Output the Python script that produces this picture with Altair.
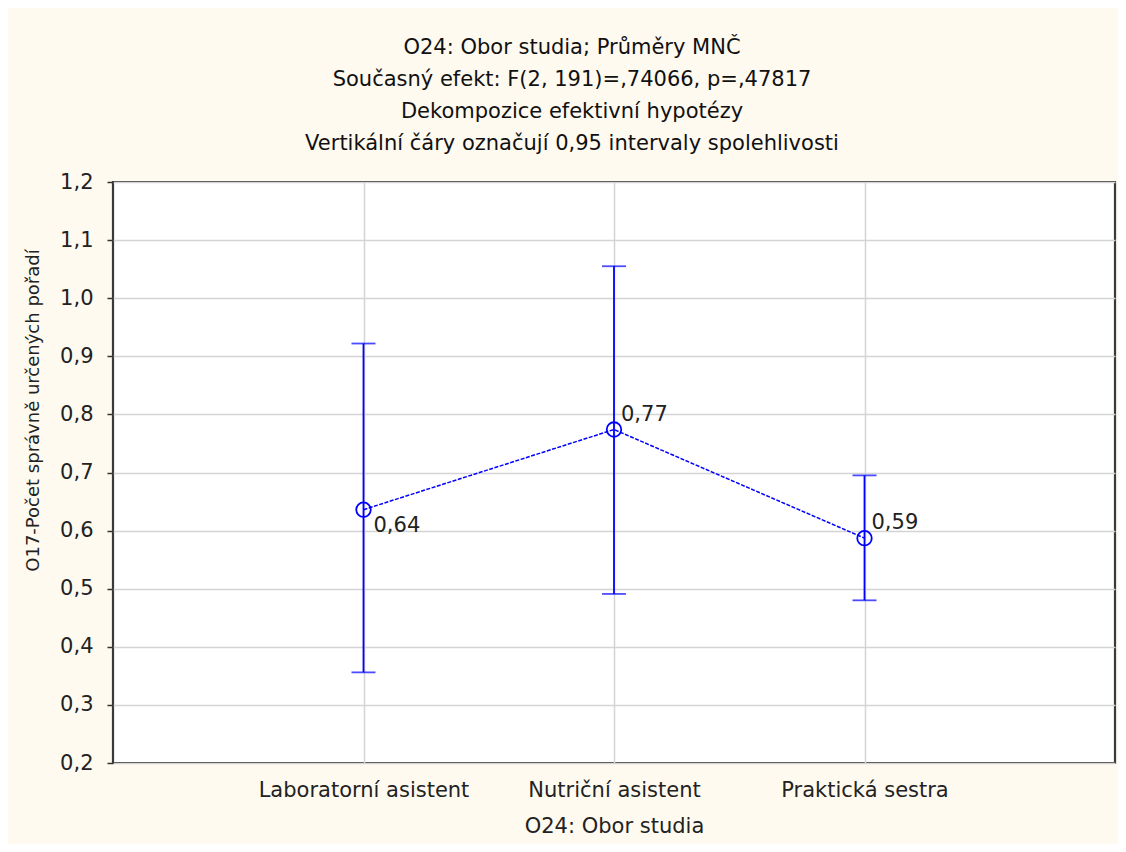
import altair as alt
import pandas as pd

categories = ["Laboratorní asistent", "Nutriční asistent", "Praktická sestra"]
means = [0.636, 0.774, 0.587]
lower = [0.356, 0.491, 0.480]
upper = [0.922, 1.055, 0.695]
labels = ["0,64", "0,77", "0,59"]

title_lines = [
    "O24: Obor studia; Průměry MNČ",
    "Současný efekt: F(2, 191)=,74066, p=,47817",
    "Dekompozice efektivní hypotézy",
    "Vertikální čáry označují 0,95 intervaly spolehlivosti",
]
x_title = "O24: Obor studia"
y_title = "O17-Počet správně určených pořadí"

df = pd.DataFrame({
    "cat": categories,
    "mean": means,
    "lo": lower,
    "hi": upper,
    "label": labels,
})

FONT = "DejaVu Sans"
BLUE = "#0000FF"

x_enc = alt.X(
    "cat:N",
    sort=categories,
    scale=alt.Scale(type="point", padding=1),
    axis=alt.Axis(
        title=x_title,
        labelAngle=0,
        labelLimit=0,
        ticks=False,
        domain=False,
        grid=True,
        gridColor="#D4D4D4",
        gridWidth=1.5,
        labelPadding=16,
        titlePadding=15,
        titleFontSize=21,
    ),
)
y_scale = alt.Scale(domain=[0.2, 1.2], nice=False, zero=False)

base = alt.Chart(df)

rules = base.mark_rule(color=BLUE, strokeWidth=1.8).encode(
    x=x_enc,
    y=alt.Y(
        "lo:Q",
        scale=y_scale,
        axis=alt.Axis(
            title=y_title,
            values=[0.2, 0.3, 0.4, 0.5, 0.6, 0.7, 0.8, 0.9, 1.0, 1.1, 1.2],
            labelExpr="replace(format(datum.value, '.1f'), '.', ',')",
            domain=False,
            tickSize=6,
            tickColor="#333333",
            tickWidth=1.5,
            labelPadding=14,
            grid=True,
            gridColor="#D4D4D4",
            gridWidth=1.5,
            titleX=-80,
            titleY=228,
            titleAngle=270,
            titleAlign="center",
            titleBaseline="middle",
            titleFontSize=18,
        ),
    ),
    y2="hi:Q",
)

caps_lo = base.mark_tick(color=BLUE, orient="horizontal", size=24, thickness=1.8).encode(
    x=alt.X("cat:N", sort=categories), y=alt.Y("lo:Q")
)
caps_hi = base.mark_tick(color=BLUE, orient="horizontal", size=24, thickness=1.8).encode(
    x=alt.X("cat:N", sort=categories), y=alt.Y("hi:Q")
)

line = base.mark_line(color=BLUE, strokeWidth=1.5, strokeDash=[4, 1.5]).encode(
    x=alt.X("cat:N", sort=categories), y=alt.Y("mean:Q")
)

points = base.mark_point(
    shape="circle", filled=False, color=BLUE, size=210, strokeWidth=1.8, opacity=1
).encode(x=alt.X("cat:N", sort=categories), y=alt.Y("mean:Q"))

text_below = base.transform_filter(
    alt.datum.cat == categories[0]
).mark_text(
    align="left", baseline="middle", dx=10, dy=16, font=FONT, fontSize=21, color="#222222"
).encode(x=alt.X("cat:N", sort=categories), y=alt.Y("mean:Q"), text="label:N")

text_above = base.transform_filter(
    alt.datum.cat != categories[0]
).mark_text(
    align="left", baseline="middle", dx=7, dy=-15, font=FONT, fontSize=21, color="#222222"
).encode(x=alt.X("cat:N", sort=categories), y=alt.Y("mean:Q"), text="label:N")

chart = alt.layer(
    rules, caps_lo, caps_hi, line, points, text_below, text_above
).properties(
    width=1002,
    height=581,
    background="#FFFAF0",
    autosize=alt.AutoSizeParams(type="none"),
    padding={"left": 105, "top": 174, "right": 3, "bottom": 81},
    title=alt.TitleParams(
        text=title_lines,
        font=FONT,
        fontSize=21,
        fontWeight="normal",
        color="#111111",
        lineHeight=32,
        anchor="middle",
        dx=-42,
        offset=17,
    ),
).configure_view(
    fill="#FFFFFF",
    stroke="#3A3A3A",
    strokeWidth=2.2,
).configure_axis(
    labelFont=FONT,
    labelFontSize=21,
    labelColor="#222222",
    titleFont=FONT,
    titleFontSize=20,
    titleFontWeight="normal",
    titleColor="#222222",
)

chart.save("out.html", embed_options={"renderer": "svg", "actions": False})
